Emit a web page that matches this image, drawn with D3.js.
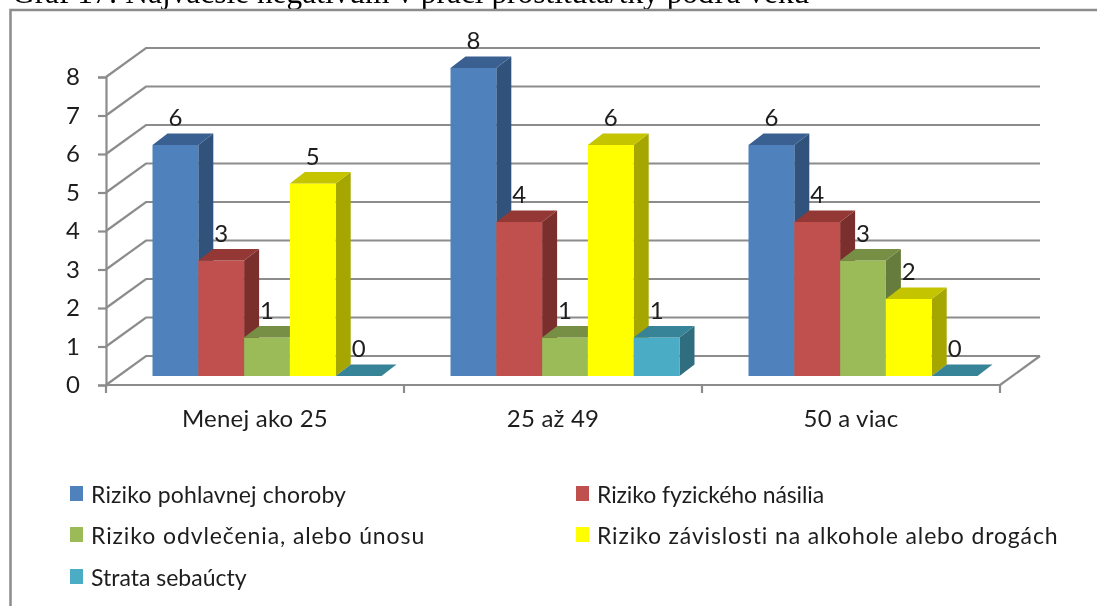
<!DOCTYPE html>
<html lang="sk">
<head>
<meta charset="utf-8">
<script src="https://cdn.jsdelivr.net/npm/d3@7/dist/d3.min.js"></script>
<style>
html,body{margin:0;padding:0;background:#fff;overflow:hidden}
svg{display:block;filter:blur(0.4px)}
text{font-family:Lato,"Open Sans",sans-serif;fill:#1d1d1d}
</style>
</head>
<body>
<script>
const titleText = "Graf 17: Najväčšie negatívum v práci prostitúta/tky podľa veku";
const categories = ["Menej ako 25", "25 až 49", "50 a viac"];
const seriesNames = ["Riziko pohlavnej choroby", "Riziko fyzického násilia", "Riziko odvlečenia, alebo únosu", "Riziko závislosti na alkohole alebo drogách", "Strata sebaúcty"];
const rizikoPohlavnej = [6, 8, 6];
const rizikoFyzickeho = [3, 4, 4];
const rizikoOdvlecenia = [1, 1, 3];
const rizikoZavislosti = [5, 6, 2];
const strataSebaucty = [0, 1, 0];
const seriesValues = [rizikoPohlavnej, rizikoFyzickeho, rizikoOdvlecenia, rizikoZavislosti, strataSebaucty];
const yTicks = [0, 1, 2, 3, 4, 5, 6, 7, 8];
const frontColors = ["#4F81BD", "#C0504D", "#9BBB59", "#FFFF00", "#4BACC6"];
const topColors = ["#3A6091", "#943835", "#778F45", "#C4C400", "#378397"];
const sideColors = ["#31527B", "#7A2F2C", "#667C3C", "#A6A600", "#2F6D7F"];
const legendTracking = [0.15, -0.1, 0.9, 0.85, 0];

const W = 1097, H = 606;
const gridColor = "#8c8c8c";
const svg = d3.select("body").append("svg").attr("width", W).attr("height", H);

const y = d3.scaleLinear().domain([0, 8]).range([385, 77]);
const x = d3.scaleBand().domain(categories).range([106, 1000]);
const xInner = d3.scaleBand().domain(d3.range(5)).range([46.5, 275.5]);
const wallDx = 40, wallDy = -29;
const barDx = 15, barDy = -11.5, barLift = -9;

// title
svg.append("text").attr("x", 12).attr("y", 3)
  .style("font-family", "'Liberation Serif',serif").style("font-size", "31.4px").style("fill", "#000")
  .text(titleText);

// outer frame
svg.append("path").attr("d", `M10.5,${H + 5}V10H${W + 5}`).attr("fill", "none")
  .attr("stroke", "#8c8c8c").attr("stroke-width", 2.5);

// 3-D walls: back gridlines, side diagonals, floor
const grid = svg.append("g").attr("fill", "none").attr("stroke", gridColor);
grid.selectAll("path.g").data(yTicks).join("path").attr("class", "g")
  .attr("stroke-width", 2.2)
  .attr("d", t => `M${x.range()[0]},${y(t)}L${x.range()[0] + wallDx},${y(t) + wallDy}H${x.range()[1] + wallDx}`);
grid.append("path").attr("stroke-width", 2.2)
  .attr("d", `M${x.range()[1]},${y(0)}L${x.range()[1] + wallDx},${y(0) + wallDy}`);

// axes
const yAxis = d3.axisLeft(y).tickValues(yTicks).tickSize(8).tickPadding(18).tickFormat(d3.format("d"));
const gy = svg.append("g").attr("transform", `translate(${x.range()[0]},0)`).call(yAxis);
gy.selectAll("path,line").attr("stroke", gridColor).attr("stroke-width", 2.2);
gy.selectAll("text").style("font-size", "24px").style("font-family", "Lato,sans-serif").attr("fill", "#1d1d1d");

const boundaries = categories.map(c => x(c)).concat([x.range()[1]]);
const floor = svg.append("g").attr("stroke", gridColor).attr("stroke-width", 2.2);
floor.append("line").attr("x1", x.range()[0]).attr("x2", x.range()[1]).attr("y1", y(0)).attr("y2", y(0));
floor.selectAll("line.t").data(boundaries).join("line").attr("class", "t")
  .attr("x1", d => d).attr("x2", d => d).attr("y1", y(0)).attr("y2", y(0) + 8);

const catLabels = svg.append("g");
catLabels.selectAll("text").data(categories).join("text")
  .attr("x", d => x(d) + x.bandwidth() / 2).attr("y", 427).attr("text-anchor", "middle")
  .style("font-size", "24px").style("letter-spacing", "0.2px").text(d => d);

// bars, painted left to right
const bars = [];
categories.forEach((c, ci) => seriesValues.forEach((vals, si) => bars.push({c, si, v: vals[ci]})));
const barW = xInner.bandwidth();
const g = svg.append("g");
bars.forEach(b => {
  const x0 = x(b.c) + xInner(b.si), x1 = x0 + barW;
  const yb = y(0) + barLift, yt = y(b.v) + barLift;
  const gb = g.append("g");
  if (b.v > 0) {
    gb.append("path").attr("fill", sideColors[b.si])
      .attr("d", `M${x1},${yb}V${yt}L${x1 + barDx},${yt + barDy}V${yb + barDy}Z`);
    gb.append("rect").attr("x", x0).attr("y", yt).attr("width", barW).attr("height", yb - yt).attr("fill", frontColors[b.si]);
  }
  gb.append("path").attr("fill", topColors[b.si])
    .attr("d", `M${x0},${yt}L${x0 + barDx},${yt + barDy}H${x1 + barDx}L${x1},${yt}Z`);
});

// value labels
svg.append("g").selectAll("text").data(bars).join("text")
  .attr("x", b => x(b.c) + xInner(b.si) + barW / 2)
  .attr("y", b => y(b.v) + barLift - 19)
  .attr("text-anchor", "middle").style("font-size", "24px").text(b => b.v);

// legend
const legendX = [70, 576], legendY = [503, 544, 586];
const legend = svg.append("g").selectAll("g").data(seriesNames).join("g")
  .attr("transform", (d, i) => `translate(${legendX[i % 2]},${legendY[Math.floor(i / 2)]})`);
legend.append("rect").attr("x", 0).attr("y", -17).attr("width", 13).attr("height", 15).attr("fill", (d, i) => frontColors[i]);
legend.append("text").attr("x", 21).attr("y", 0).style("font-size", "23px")
  .style("letter-spacing", (d, i) => legendTracking[i] + "px").text(d => d);
</script>
</body>
</html>
